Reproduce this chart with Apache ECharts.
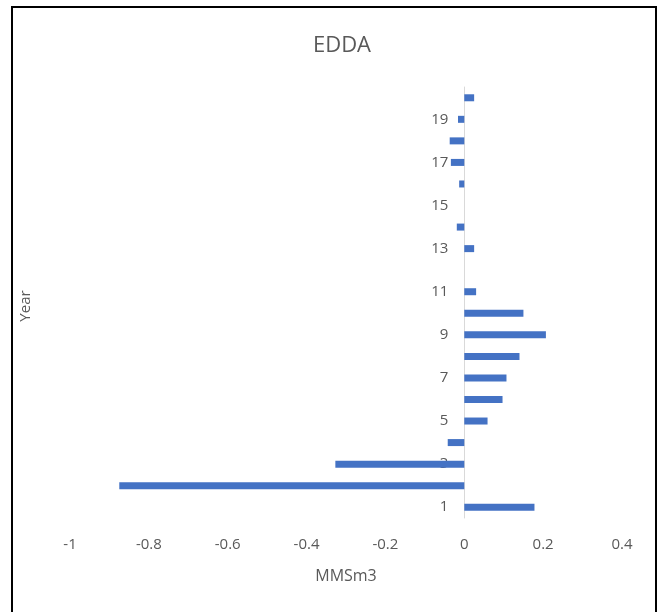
<!DOCTYPE html>
<html><head><meta charset="utf-8">
<script src="https://cdn.jsdelivr.net/npm/echarts@6/dist/echarts.min.js"></script>
<style>
html,body{margin:0;padding:0;background:#fff;}
#frame{position:absolute;left:11px;top:6px;width:646px;height:620px;border:2px solid #000;box-sizing:border-box;}
#c{position:absolute;left:0;top:0;width:664px;height:612px;}
</style></head>
<body>
<div id="frame"></div>
<div id="c"></div>
<script>
const title = 'EDDA';
const years = ['1','2','3','4','5','6','7','8','9','10','11','12','13','14','15','16','17','18','19','20'];
const values = [0.178, -0.875, -0.327, -0.042, 0.059, 0.097, 0.107, 0.14, 0.207, 0.15, 0.03, 0, 0.025, -0.019, 0, -0.013, -0.034, -0.037, -0.016, 0.025];
const xName = 'MMSm3';
const yName = 'Year';
const xMin = -1, xMax = 0.4;

const chart = echarts.init(document.getElementById('c'));
const txt = '#595959';
const gridL = 70, gridR = 42;
const plotW = 664 - gridL - gridR;
const zeroOffset = -plotW * (0 - xMin) / (xMax - xMin);
chart.setOption({
  animation: false,
  title: {text: title, left: 337, top: 30, textAlign: 'center',
    textStyle: {color: txt, fontSize: 22, fontWeight: 'normal', fontFamily: 'Open Sans'}},
  grid: {left: gridL, right: gridR, top: 87, bottom: 94},
  graphic: [{type: 'text', left: 18, top: 'middle', rotation: Math.PI/2,
    style: {text: yName, fill: txt, font: '15px "Open Sans"'}, x: 27, y: 306, originX: 0, originY: 0,
    position: [27, 306]}],
  xAxis: {type: 'value', min: xMin, max: xMax, interval: 0.2,
    name: xName, nameLocation: 'middle', nameGap: 50,
    nameTextStyle: {color: txt, fontSize: 16, fontFamily: 'Open Sans'},
    axisLine: {show: false}, axisTick: {show: false}, splitLine: {show: false},
    axisLabel: {color: txt, fontSize: 15, fontFamily: 'Open Sans', margin: 19,
      formatter: v => String(Math.round(v*10)/10)}},
  yAxis: {type: 'category', data: years, offset: zeroOffset,
    axisLine: {show: true, onZero: false, lineStyle: {color: '#d9d9d9', width: 1}},
    axisTick: {show: false},
    axisLabel: {color: txt, fontSize: 15, fontFamily: 'Open Sans', interval: 1, margin: 16}},
  series: [{type: 'bar', data: values, barWidth: 7, itemStyle: {color: '#4472C4'}}]
});
</script>
</body></html>
